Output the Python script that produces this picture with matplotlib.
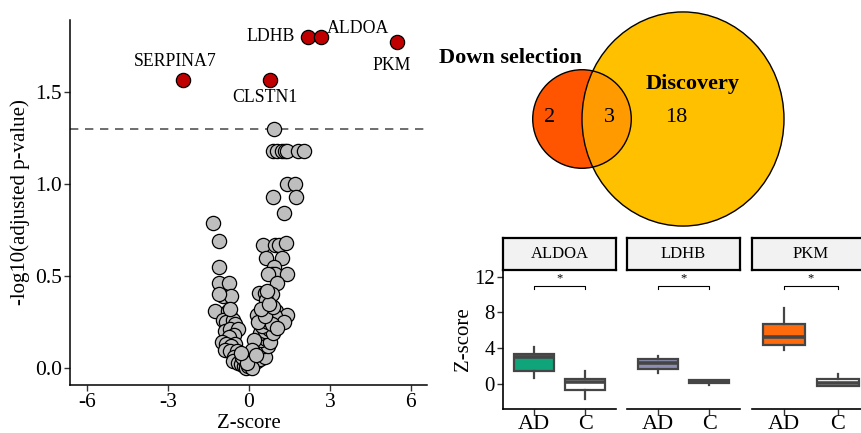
import matplotlib
matplotlib.use("Agg")
import matplotlib.pyplot as plt
from matplotlib.patches import Ellipse
import numpy as np

plt.rcParams['font.family'] = ['Liberation Serif', 'DejaVu Serif']
plt.rcParams['axes.unicode_minus'] = False

# ---- volcano data (z-score, -log10 adjusted p) ----
gray_z = [0.94, 0.88, 1.05, 1.22, 1.35, 1.43, 1.81, 2.04, 1.40, 1.70, 0.88, 1.75,
          1.30, -1.33, -1.11, 0.54, 0.98, 1.10, 1.38, 0.63, 1.22, -1.12, 0.93,
          0.85, 0.98, 1.41, 0.72, -1.12, -0.75, 1.05, -0.96, -0.67, 0.37, 0.58,
          0.85, 0.65, -1.25, -0.78, -0.69, 0.30, 0.55, 0.80, 1.00, 1.41, 0.98,
          1.31, -0.95, -0.85, -0.60, -0.50, -0.90, -0.70, -0.40, -0.55, -0.75,
          -1.00, -0.85, -0.50, -0.65, -0.90, -0.70, -0.45, -0.55, -0.35, -0.60,
          -0.40, -0.30, -0.20, -0.15, -0.25, -0.10, -0.05, 0.10, 0.05, 0.20,
          0.30, 0.15, 0.40, 0.25, 0.50, 0.60, 0.35, 0.55, 0.70, 0.45, 0.65, 0.80,
          0.40, 0.60, 0.75, 0.90, 0.50, 0.70, 0.85, 1.05, 0.35, 0.60, 0.90, 0.45,
          0.75, 0.20, 0.10, 0.00, -0.70, -1.10, 0.12, -0.08, 0.28, -0.28, 0.68]
gray_p = [1.30, 1.18, 1.18, 1.18, 1.18, 1.18, 1.18, 1.18, 1.00, 1.00, 0.93, 0.93,
          0.84, 0.79, 0.69, 0.67, 0.67, 0.67, 0.68, 0.60, 0.60, 0.55, 0.55,
          0.51, 0.51, 0.51, 0.51, 0.46, 0.46, 0.46, 0.39, 0.39, 0.41, 0.41,
          0.40, 0.37, 0.31, 0.31, 0.28, 0.29, 0.30, 0.30, 0.31, 0.29, 0.28,
          0.25, 0.26, 0.25, 0.26, 0.24, 0.20, 0.21, 0.21, 0.18, 0.17,
          0.14, 0.13, 0.13, 0.12, 0.10, 0.09, 0.09, 0.06, 0.05, 0.04,
          0.03, 0.02, 0.01, 0.04, 0.06, 0.00, 0.01, 0.01, 0.02, 0.03,
          0.04, 0.06, 0.05, 0.09, 0.08, 0.06, 0.11, 0.12, 0.12, 0.15, 0.16, 0.14,
          0.19, 0.20, 0.21, 0.19, 0.23, 0.25, 0.24, 0.22, 0.25, 0.28, 0.33, 0.32,
          0.35, 0.15, 0.10, 0.02, 0.32, 0.40, 0.00, 0.03, 0.07, 0.08, 0.42]

sig_genes = ['SERPINA7', 'CLSTN1', 'LDHB', 'ALDOA', 'PKM']
sig_z = [-2.44, 0.78, 2.19, 2.66, 5.50]
sig_p = [1.565, 1.565, 1.80, 1.80, 1.77]
# label placement (repelled positions)
label_z = [-2.74, 0.60, 0.81, 4.04, 5.30]
label_p = [1.665, 1.47, 1.80, 1.845, 1.645]

p_cut = 1.30

# ---- venn counts ----
venn_names = ['Down selection', 'Discovery']
only_down, both, only_disc = 2, 3, 18

# ---- box plot summaries (whisker low, q1, median, q3, whisker high) ----
box_genes = ['ALDOA', 'LDHB', 'PKM']
groups = ['AD', 'C']
box_stats = {
    'ALDOA': [(0.7, 1.5, 3.0, 3.4, 4.1), (-1.7, -0.7, 0.2, 0.6, 1.4)],
    'LDHB': [(1.2, 1.7, 2.3, 2.8, 3.1), (-0.1, 0.1, 0.25, 0.4, 0.45)],
    'PKM': [(3.8, 4.4, 5.3, 6.7, 8.5), (-0.2, -0.2, 0.1, 0.6, 1.1)],
}
ad_colors = {'ALDOA': '#10A47B', 'LDHB': '#8E8EB2', 'PKM': '#FF6A0D'}

W, H = 861, 433
fig = plt.figure(figsize=(W / 100, H / 100), dpi=100)


def px_axes(x0, y0, x1, y1):
    # axes from pixel box (top-left origin)
    return fig.add_axes([x0 / W, (H - y1) / H, (x1 - x0) / W, (y1 - y0) / H])


# ================= volcano =================
ax = px_axes(70, 20, 427, 385)
ax.scatter(gray_z, gray_p, s=105, c='#BEBEBE', edgecolors='black', linewidths=0.9, zorder=3)
ax.scatter(sig_z, sig_p, s=105, c='#C00000', edgecolors='black', linewidths=0.9, zorder=4)
for g, lx, ly in zip(sig_genes, label_z, label_p):
    ax.text(lx, ly, g, ha='center', va='center', fontsize=12.8, zorder=5)
ax.axhline(p_cut, color='#555555', lw=1.2, ls=(0, (5, 4)), zorder=2)
ax.set_xlim(-6.63, 6.6)
ax.set_ylim(-0.092, 1.89)
ax.set_xticks([-6, -3, 0, 3, 6])
ax.set_yticks([0.0, 0.5, 1.0, 1.5])
ax.set_yticklabels(['0.0', '0.5', '1.0', '1.5'])
ax.set_xlabel('Z-score', fontsize=15, labelpad=1)
ax.set_ylabel('-log10(adjusted p-value)', fontsize=15, labelpad=3)
ax.tick_params(labelsize=15.5, length=4, width=1, color='#333333', pad=2)
for s in ['top', 'right']:
    ax.spines[s].set_visible(False)
for s in ['left', 'bottom']:
    ax.spines[s].set_linewidth(1.1)

# ================= venn =================
vx = px_axes(430, 0, 861, 238)
vx.set_xlim(430, 861)
vx.set_ylim(238, 0)
vx.axis('off')
tot_down = only_down + both
tot_disc = only_disc + both
r_big = 101.0
r_small = r_big * np.sqrt(tot_down / tot_disc)
stretch = 1.06
cy = 119
big_cx, small_cx = 683, 582
vx.add_patch(Ellipse((big_cx, cy), 2 * r_big, 2 * r_big * stretch, fc='#FFC000', ec='none', zorder=1))
vx.add_patch(Ellipse((small_cx, cy), 2 * r_small, 2 * r_small, fc='#FF5500', ec='none', zorder=2))
overlap = Ellipse((small_cx, cy), 2 * r_small, 2 * r_small, fc='#FF9A00', ec='none', zorder=3)
vx.add_patch(overlap)
clip = Ellipse((big_cx, cy), 2 * r_big, 2 * r_big * stretch, fc='none', ec='none')
vx.add_patch(clip)
overlap.set_clip_path(clip)
vx.add_patch(Ellipse((big_cx, cy), 2 * r_big, 2 * r_big * stretch, fc='none', ec='black', lw=1, zorder=4))
vx.add_patch(Ellipse((small_cx, cy), 2 * r_small, 2 * r_small, fc='none', ec='black', lw=1, zorder=4))
vx.text(550, 117, str(only_down), ha='center', va='center', fontsize=16, zorder=5)
vx.text(609, 117, str(both), ha='center', va='center', fontsize=16, zorder=5)
vx.text(676, 117, str(only_disc), ha='center', va='center', fontsize=16, zorder=5)
vx.text(510, 58, venn_names[0], ha='center', va='center', fontsize=16, fontweight='bold', zorder=5)
vx.text(693, 84, venn_names[1], ha='center', va='center', fontsize=16, fontweight='bold', zorder=5)

# ================= box plots =================
panels = [(503, 616), (627, 740), (752, 870)]
for i, (gene, (x0, x1)) in enumerate(zip(box_genes, panels)):
    bx = px_axes(x0, 270, x1, 409)
    stats = []
    for j, st in enumerate(box_stats[gene]):
        wl, q1, med, q3, wh = st
        stats.append(dict(whislo=wl, q1=q1, med=med, q3=q3, whishi=wh, fliers=[], label=groups[j]))
    bp = bx.bxp(stats, positions=[1, 2], widths=0.78, patch_artist=True, showcaps=False,
                boxprops=dict(ec='#454545', lw=1.6),
                whiskerprops=dict(color='#454545', lw=1.6),
                medianprops=dict(color='#454545', lw=2.6, solid_capstyle='butt'))
    bp['boxes'][0].set_facecolor(ad_colors[gene])
    bp['boxes'][1].set_facecolor('white')
    # significance bracket
    bx.plot([1, 1, 2, 2], [10.6, 11, 11, 10.6], color='black', lw=0.8)
    bx.text(1.5, 11.1, '*', ha='center', va='bottom', fontsize=9)
    bx.set_xlim(0.4, 2.6)
    bx.set_ylim(-2.8, 12.75)
    bx.set_xticks([1, 2])
    bx.set_xticklabels(groups)
    bx.tick_params(axis='x', labelsize=16, length=4, width=1, color='#333333', pad=0)
    for s in ['top', 'right']:
        bx.spines[s].set_visible(False)
    bx.spines['bottom'].set_linewidth(1.2)
    if i == 0:
        bx.set_yticks([0, 4, 8, 12])
        bx.tick_params(axis='y', labelsize=15, length=4, width=1, color='#333333', pad=2)
        bx.set_ylabel('Z-score', fontsize=15, labelpad=1)
        bx.spines['left'].set_linewidth(1.2)
    else:
        bx.set_yticks([])
        bx.spines['left'].set_visible(False)
    # facet strip
    sx = px_axes(x0, 238, x1, 270)
    sx.set_xlim(0, 1)
    sx.set_ylim(0, 1)
    sx.set_xticks([])
    sx.set_yticks([])
    sx.set_facecolor('#F2F2F2')
    for s in sx.spines.values():
        s.set_linewidth(1.6)
        s.set_color('black')
    sx.text(0.5, 0.5, gene, ha='center', va='center', fontsize=12)

fig.savefig('out.png', dpi=100)
